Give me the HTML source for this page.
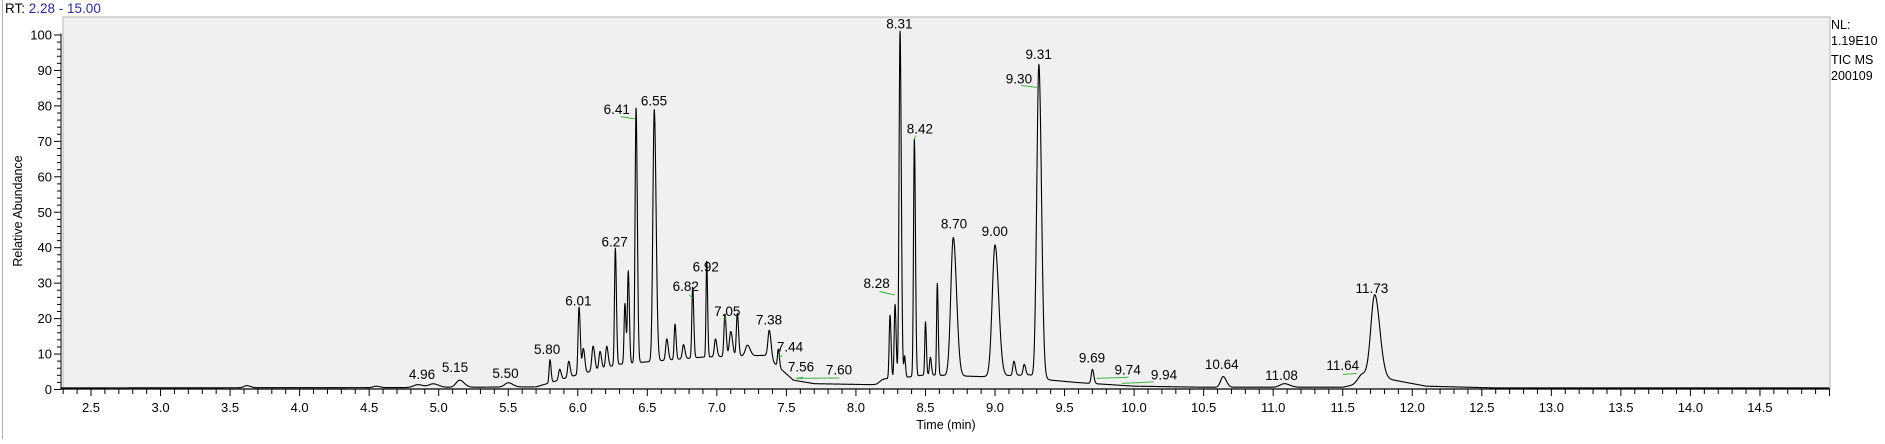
<!DOCTYPE html>
<html><head><meta charset="utf-8">
<style>
html,body{margin:0;padding:0;background:#fff;}
body{width:1885px;height:439px;overflow:hidden;font-family:"Liberation Sans",Arial,sans-serif;}
svg text{font-family:"Liberation Sans",Arial,sans-serif;}
</style></head>
<body>
<svg id="chart" width="1885" height="439" viewBox="0 0 1885 439" xmlns="http://www.w3.org/2000/svg">
  <line x1="2.5" y1="0" x2="2.5" y2="439" stroke="#b0b0b0" stroke-width="1"/>
  <text x="5" y="13" font-size="13.5" fill="#000">RT: <tspan fill="#2a2a9a">2.28 - 15.00</tspan></text>
  <rect x="63" y="17" width="1767" height="372" fill="#f0f0f0" stroke="#b4b4b4" stroke-width="1"/>
  <g id="axes"></g>
  <g id="series"></g>
  <g id="labels"></g>
  <text transform="translate(22,211) rotate(-90)" text-anchor="middle" font-size="12.5">Relative Abundance</text>
  <text x="946" y="429" text-anchor="middle" font-size="12.5">Time (min)</text>
  <g font-size="12.5">
    <text x="1831" y="29">NL:</text>
    <text x="1831" y="45">1.19E10</text>
    <text x="1831" y="64">TIC  MS</text>
    <text x="1831" y="80">200109</text>
  </g>
</svg>
<script>
// ---- data ----
const peakTimes   = [3.62,4.55,4.85,4.96,5.15,5.50,5.80,5.87,5.935,6.009,6.04,6.11,6.16,6.208,6.27,6.339,6.363,6.419,6.55,6.64,6.699,6.76,6.826,6.927,6.99,7.058,7.10,7.147,7.22,7.377,7.442,8.20,8.245,8.281,8.317,8.35,8.42,8.50,8.535,8.585,8.70,9.00,9.136,9.21,9.295,9.316,9.70,10.64,11.08,11.64,11.73];
const peakHeights = [0.6,0.4,0.8,1.0,2.0,1.2,6.5,3.0,4.5,19,7,7,5,6,33,17,26,72,71,6,10,4,20,27,5,12,7,12,3,8,5,1,18,21,98,6,67,15,5,26,39,37,4,3,8,86,4,3,1.0,2.5,24];
const peakWidths  = [0.02,0.02,0.03,0.03,0.025,0.025,0.006,0.008,0.008,0.007,0.008,0.009,0.008,0.008,0.006,0.006,0.006,0.007,0.01,0.008,0.006,0.008,0.006,0.005,0.008,0.007,0.01,0.007,0.015,0.01,0.006,0.03,0.006,0.006,0.007,0.005,0.006,0.005,0.006,0.005,0.018,0.02,0.008,0.008,0.01,0.014,0.008,0.018,0.03,0.03,0.028];
const baseTimes   = [2.28,4.7,5.7,5.95,6.3,6.9,7.35,7.45,7.55,7.7,8.15,8.3,8.5,8.9,9.25,9.4,9.6,10.0,10.5,11.5,11.8,12.1,12.6,15.0];
const baseValues  = [0.3,0.4,0.6,3.5,7,9,9.5,6,2.5,1.5,1.2,3,4,3.5,4,2.5,1.8,0.8,0.5,0.5,3,0.8,0.3,0.3];
const labelTexts  = ["4.96","5.15","5.50","5.80","6.01","6.27","6.41","6.55","6.82","6.92","7.05","7.38","7.44","7.56","7.60","8.28","8.31","8.42","8.70","9.00","9.30","9.31","9.69","9.74","9.94","10.64","11.08","11.64","11.73"];
const labelTimes  = [4.88,5.117,5.48,5.78,6.004,6.265,6.28,6.548,6.776,6.92,7.075,7.375,7.526,7.605,7.878,8.149,8.312,8.46,8.705,8.998,9.172,9.314,9.697,9.954,10.215,10.63,11.06,11.50,11.71];
const labelValues = [1.7,3.7,2.0,8.7,22.4,39.1,76.4,78.8,26.5,32,19.5,17.1,9.4,3.8,3.0,27.3,100.6,70.9,44.2,42.1,85.1,91.9,6.4,3.0,1.6,4.5,1.4,4.2,26];
const xTickLabels = ["2.5","3.0","3.5","4.0","4.5","5.0","5.5","6.0","6.5","7.0","7.5","8.0","8.5","9.0","9.5","10.0","10.5","11.0","11.5","12.0","12.5","13.0","13.5","14.0","14.5"];
const yTickLabels = ["0","10","20","30","40","50","60","70","80","90","100"];
// ---- scales ----
const X = t => 91 + (t - 2.5) * 139.08;
const Y = v => 389 - v * 3.545;
const NS = "http://www.w3.org/2000/svg";
function mk(tag, attrs, parent){const e=document.createElementNS(NS,tag);for(const k in attrs)e.setAttribute(k,attrs[k]);parent.appendChild(e);return e;}
const axes=document.getElementById('axes');
let a1=mk('line',{x1:61,y1:Y(100)-1,x2:61,y2:389,stroke:'#000','stroke-width':1},axes);


let a2=mk('line',{x1:61,y1:389,x2:1830,y2:389,stroke:'#000','stroke-width':1.3},axes);


for(let v=0;v<=100;v+=2){
  const major=v%10===0;
  const tk=mk('line',{x1:major?54:57,y1:Y(v)+0.5,x2:61,y2:Y(v)+0.5,stroke:'#000','stroke-width':1},axes);
  
  
}
yTickLabels.forEach(s=>{
  const t=mk('text',{x:52,y:Y(parseFloat(s))+5,'text-anchor':'end','font-size':'13'},axes);t.textContent=s;
  
  
});
for(let i=23;i<=150;i++){
  const t=i/10; const major=(i%5===0);
  const tk=mk('line',{x1:X(t),y1:389,x2:X(t),y2:major?396:394,stroke:'#000','stroke-width':1},axes);
  
  
}
xTickLabels.forEach(s=>{
  const t=mk('text',{x:X(parseFloat(s)),y:412,'text-anchor':'middle','font-size':'13'},axes);t.textContent=s;
  
  
});
function baseAt(t){
  for(let i=0;i<baseTimes.length-1;i++){
    if(t>=baseTimes[i]&&t<=baseTimes[i+1]){const f=(t-baseTimes[i])/(baseTimes[i+1]-baseTimes[i]);return baseValues[i]+f*(baseValues[i+1]-baseValues[i]);}
  }
  return baseValues[baseValues.length-1];
}
let d='';
for(let t=2.28;t<=15.0;t+=0.0015){
  let v=baseAt(t);
  for(let k=0;k<peakTimes.length;k++){
    const dt=t-peakTimes[k]; let w=peakWidths[k]; if(dt>0) w*=1.3;
    if(Math.abs(dt)<8*w) v+=peakHeights[k]*Math.exp(-dt*dt/(2*w*w));
  }
  d+=(d?'L':'M')+X(t).toFixed(2)+','+Y(v).toFixed(2);
}
const line=mk('path',{d:d,fill:'none',stroke:'#000','stroke-width':1.1,'stroke-linejoin':'round'},document.getElementById('series'));


const lg=document.getElementById('labels');
labelTexts.forEach((s,i)=>{
  const t=mk('text',{x:X(labelTimes[i]),y:Y(labelValues[i])-4,'text-anchor':'middle','font-size':'13.5',fill:'#000'},lg);t.textContent=s;
  
  
});
const greenFrom=[6.31,6.80,7.06,7.47,7.57,7.57,8.17,8.42,9.19,9.73,9.91,11.50];
const greenFromV=[76.8,26.6,19.3,9.4,3.0,3.0,27.5,70.5,85.6,3.0,1.6,4.1];
const greenTo=[6.415,6.826,7.058,7.442,7.62,7.88,8.28,8.43,9.30,9.96,10.14,11.60];
const greenToV=[76.2,25.6,20.5,8.9,3.3,3.1,26.5,71.5,85.1,3.3,2.0,4.4];
greenFrom.forEach((t,i)=>{
  const g=mk('line',{x1:X(t),y1:Y(greenFromV[i]),x2:X(greenTo[i]),y2:Y(greenToV[i]),stroke:'#3cb43c','stroke-width':1},lg);
  
  
});
</script>
</body></html>
